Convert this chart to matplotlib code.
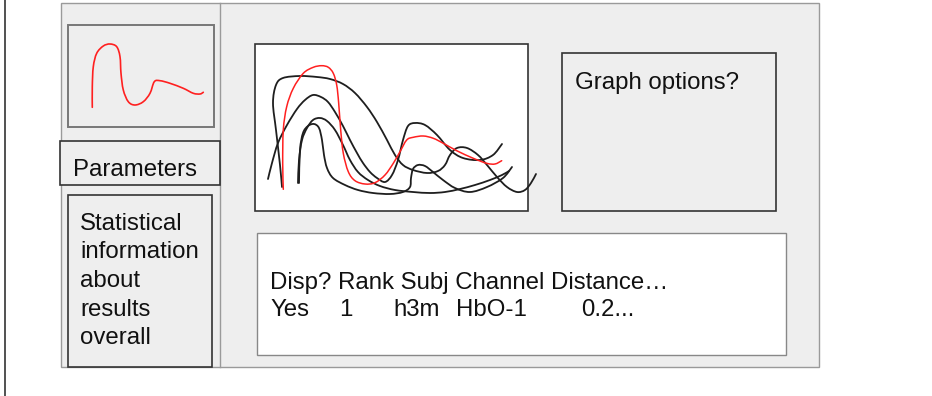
import matplotlib as mpl
mpl.use('Agg')
import matplotlib.pyplot as plt
from matplotlib.patches import Rectangle, PathPatch
from matplotlib.path import Path

# Mock-up of a results viewer: thumbnail, parameters, stats, graph, table.
# Coordinates are in picture pixels (x right, y down).

# thumbnail trace (red)
thumb_x = [92.3, 92.3, 93.3, 96.7, 103.3, 110, 116.7, 120, 121, 123.3, 128.3,
           135, 143.3, 150, 154.3, 160, 170, 183.3, 193.3, 200, 203.3]
thumb_y = [107.3, 86.7, 66.7, 53.3, 46, 44, 46.7, 56.7, 73.3, 90, 101.7,
           105, 101.7, 93.3, 81.7, 80.7, 83.3, 88.3, 93.3, 94, 92.3]

# selected trace in the main graph (red)
red_x = [283.3, 282.7, 283.3, 286.7, 293.3, 303.3, 313.3, 321.7, 328.3, 333.3,
         336.7, 338.7, 340.7, 343.3, 348.3, 355, 365, 375, 385, 393.3, 400,
         406.7, 413.3, 423.3, 433.3, 443.3, 456.7, 473.3, 486.7, 495, 501.7]
red_y = [189.3, 163.3, 130, 106.7, 88.3, 73.3, 67.3, 65.7, 67.3, 73.3,
         85, 103.3, 130, 153.3, 171.7, 180.7, 184, 182.7, 175, 163.3, 151.7,
         140, 137.3, 136, 138.3, 143.3, 150.7, 158.3, 163.3, 164, 160.7]

# other traces (black)
a_x = [282, 280, 276, 273, 276, 283, 300, 317, 330, 343, 355, 367, 377, 387,
       395, 403, 413, 427, 438, 445, 450, 457, 467, 478, 487, 497, 507, 517,
       525, 531, 536]
a_y = [187, 165, 130, 103, 85, 78, 76, 77, 79, 84, 93, 107, 122, 140,
       155, 165, 170, 173, 171, 165, 155, 148, 148, 155, 165, 177, 187, 192,
       190, 183, 174]

b_x = [268, 272, 278, 287, 297, 305, 313, 321, 328, 335, 343, 350, 357, 363,
       370, 377, 385, 392, 398, 403, 408, 415, 425, 437, 450, 463, 480, 493,
       502]
b_y = [179, 163, 143, 125, 109, 100, 95, 97, 102, 112, 126, 140, 153, 163,
       172, 178, 182, 175, 160, 140, 126, 123, 125, 135, 150, 158, 160, 155,
       144]

c_x = [298, 299, 302, 307, 313, 320, 327, 335, 343, 350, 358, 368, 380, 395,
       413, 430, 445, 460, 475, 490, 502, 509]
c_y = [183, 160, 140, 128, 120, 118, 121, 130, 145, 160, 172, 180, 186, 190,
       192, 193, 192, 189, 185, 180, 175, 171]

d_x = [299, 300, 303, 308, 314, 319, 322, 324, 327, 333, 345, 358, 373, 390,
       403, 410, 411, 413, 418, 425, 433, 443, 455, 470, 487, 503, 512]
d_y = [183, 150, 133, 126, 124, 128, 140, 155, 168, 178, 185, 190, 193, 194,
       192, 187, 178, 169, 165, 166, 172, 180, 188, 192, 187, 178, 167]

stats_lines = ["Statistical", "information", "about", "results", "overall"]
table_header = "Disp? Rank Subj Channel Distance\u2026"
table_row = ["Yes", "1", "h3m", "HbO-1", "0.2..."]
row_x = [270, 339, 393, 456, 581]

plt.rcParams['font.family'] = ['Liberation Sans', 'DejaVu Sans']
fs = 17.3

fig = plt.figure(figsize=(9.32, 3.96), dpi=100)
ax = fig.add_axes([0, 0, 1, 1])
ax.set_xlim(0, 932)
ax.set_ylim(396, 0)
ax.axis('off')


def box(x0, y0, x1, y1, fc, ec, lw=1.2, z=1):
    ax.add_patch(Rectangle((x0, y0), x1 - x0, y1 - y0, facecolor=fc,
                           edgecolor=ec, linewidth=lw, zorder=z))


def smooth(xs, ys, color, lw, z):
    # Bezier path through the read points (Catmull-Rom handles)
    pts = list(zip(xs, ys))
    verts = [pts[0]]
    codes = [Path.MOVETO]
    n = len(pts)
    for i in range(n - 1):
        p0 = pts[max(i - 1, 0)]
        p1 = pts[i]
        p2 = pts[i + 1]
        p3 = pts[min(i + 2, n - 1)]
        c1 = (p1[0] + (p2[0] - p0[0]) / 6, p1[1] + (p2[1] - p0[1]) / 6)
        c2 = (p2[0] - (p3[0] - p1[0]) / 6, p2[1] - (p3[1] - p1[1]) / 6)
        verts += [c1, c2, p2]
        codes += [Path.CURVE4] * 3
    ax.add_patch(PathPatch(Path(verts, codes), facecolor='none',
                           edgecolor=color, lw=lw, zorder=z,
                           capstyle='round', joinstyle='round'))


# left page edge
ax.plot([5, 5], [0, 396], color='#333333', lw=1.2)

# outer panel + divider
box(61, 3, 819, 367, '#eeeeee', '#9a9a9a', 1.0)
ax.plot([220, 220], [3, 367], color='#9a9a9a', lw=1.0, zorder=2)

# thumbnail
box(68, 25, 214, 127, '#eeeeee', '#777777', 1.4, 2)
smooth(thumb_x, thumb_y, '#ff2020', 1.2, 3)

# parameters
box(60, 141, 220, 185, '#eeeeee', '#333333', 1.2, 2)
ax.text(73, 176, "Parameters", fontsize=fs, color='#111111', va='baseline')

# stats
box(68, 195, 212, 367, '#eeeeee', '#333333', 1.2, 2)
for i, s in enumerate(stats_lines):
    ax.text(80, 230 + i * 28.5, s, fontsize=fs, color='#111111', va='baseline')

# main graph
box(255, 44, 528, 211, 'white', '#333333', 1.2, 2)
for xs, ys in [(a_x, a_y), (b_x, b_y), (c_x, c_y), (d_x, d_y)]:
    smooth(xs, ys, '#1e1e1e', 1.3, 3)
smooth(red_x, red_y, '#ff2020', 1.1, 4)

# graph options
box(562, 53, 776, 211, '#eeeeee', '#333333', 1.2, 2)
ax.text(575, 89, "Graph options?", fontsize=fs, color='#111111', va='baseline')

# results table
box(257, 233, 786, 355, 'white', '#888888', 1.0, 2)
ax.text(270, 289, table_header, fontsize=fs, color='#111111', va='baseline')
for x, s in zip(row_x, table_row):
    ax.text(x, 316, s, fontsize=fs, color='#111111', va='baseline')

fig.savefig('out.png', dpi=100, facecolor='white')
